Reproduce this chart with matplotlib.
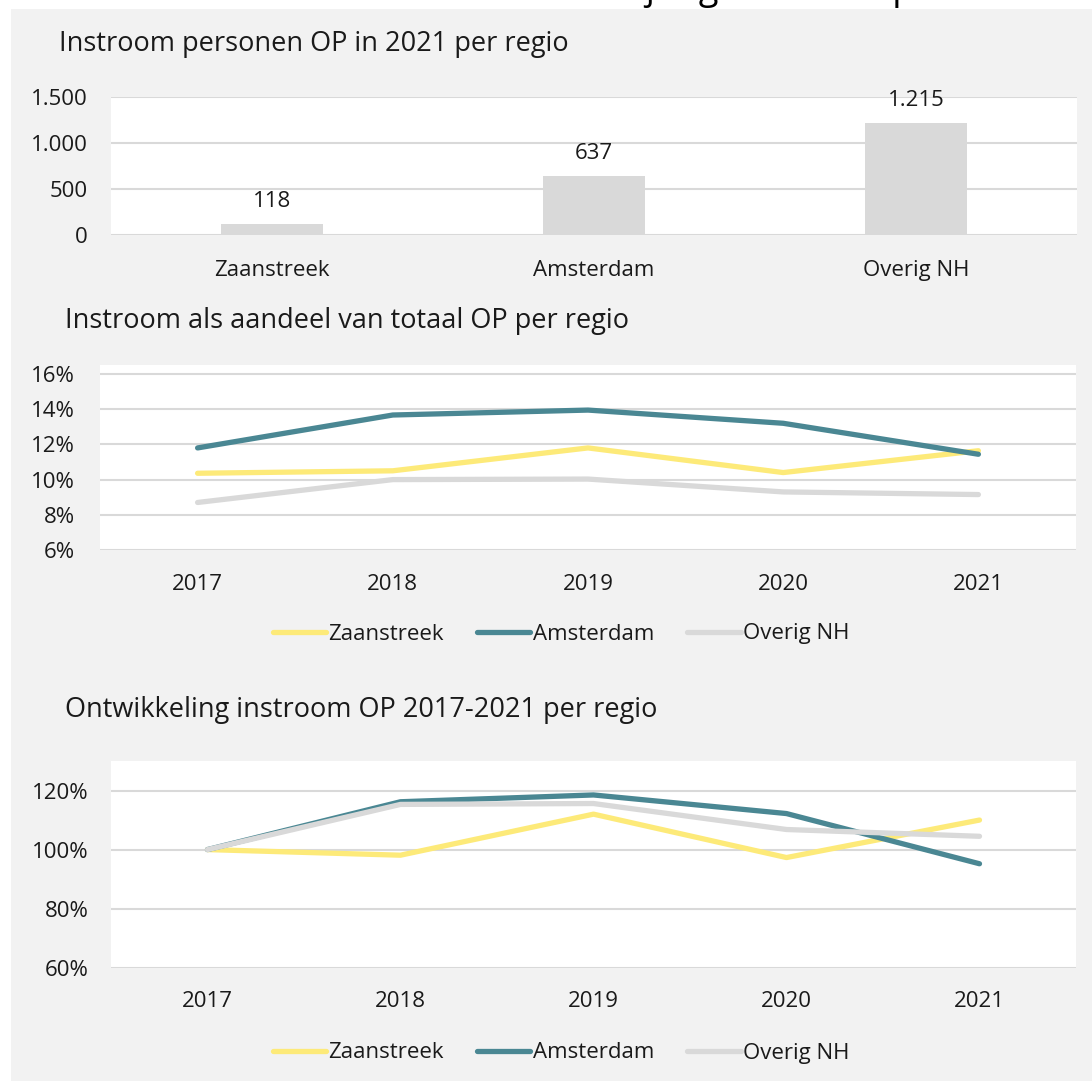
import matplotlib
matplotlib.use('Agg')
import matplotlib.pyplot as plt
from matplotlib.patches import Rectangle
from matplotlib.ticker import FuncFormatter

plt.rcParams['font.family'] = ['Open Sans', 'DejaVu Sans']

regions = ['Zaanstreek', 'Amsterdam', 'Overig NH']
instroom_2021 = [118, 637, 1215]

years = ['2017', '2018', '2019', '2020', '2021']
aandeel = {
    'Zaanstreek': [0.1036, 0.105, 0.118, 0.104, 0.1164],
    'Amsterdam': [0.118, 0.1367, 0.1395, 0.132, 0.1144],
    'Overig NH': [0.087, 0.100, 0.1003, 0.093, 0.0915],
}
ontwikkeling = {
    'Zaanstreek': [1.00, 0.981, 1.12, 0.973, 1.10],
    'Amsterdam': [1.00, 1.162, 1.185, 1.122, 0.952],
    'Overig NH': [1.00, 1.153, 1.156, 1.068, 1.045],
}
colors = {'Zaanstreek': '#FDEA79', 'Amsterdam': '#4A8793', 'Overig NH': '#D9D9D9'}

W, H = 1092, 1083
BG = '#F2F2F2'
GRID = '#D9D9D9'
TXT = '#1A1A1A'
TITLE_FS = 19.5
TICK_FS = 16

fig = plt.figure(figsize=(W / 100, H / 100), dpi=100, facecolor='white')


def px_axes(left, top, right, bottom):
    return fig.add_axes([left / W, 1 - bottom / H, (right - left) / W, (bottom - top) / H])


def nl_thousands(v, pos=None):
    return f'{int(v):,}'.replace(',', '.')


# gray panel behind everything
fig.patches.append(Rectangle((11 / W, 1 - 1081 / H), (W - 11) / W, (1081 - 9) / H,
                             transform=fig.transFigure, facecolor=BG, edgecolor='none', zorder=-10))

# big title, mostly cut off at the top edge
fig.text(482 / W, 1.0 + 1 / H, 'Instroom jongeren naar pro', fontsize=26, color='black',
         ha='left', va='baseline')

# --- panel 1: bars ---
fig.text(59 / W, 1 - 44 / H, 'Instroom personen OP in 2021 per regio', fontsize=TITLE_FS,
         color=TXT, va='center')
ax1 = px_axes(111, 97, 1077, 235)
ax1.set_facecolor('white')
x = range(len(regions))
bars = ax1.bar(x, instroom_2021, width=0.314, color='#D9D9D9', zorder=3)
for rect, v in zip(bars, instroom_2021):
    ax1.annotate(nl_thousands(v), xy=(rect.get_x() + rect.get_width() / 2, v),
                 xytext=(0, 9), textcoords='offset points', ha='center', va='bottom',
                 fontsize=TICK_FS, color=TXT)
ax1.set_xlim(-0.5, 2.5)
ax1.set_ylim(0, 1500)
ax1.set_yticks([0, 500, 1000, 1500])
ax1.yaxis.set_major_formatter(FuncFormatter(nl_thousands))
ax1.set_xticks(list(x))
ax1.set_xticklabels(regions)


def style(ax, xpad=14, ypad=17):
    for s in ax.spines.values():
        s.set_visible(False)
    ax.grid(axis='y', color=GRID, lw=1.5, zorder=0)
    ax.set_axisbelow(True)
    ax.tick_params(length=0, labelsize=TICK_FS, colors=TXT)
    ax.tick_params(axis='x', pad=xpad)
    ax.tick_params(axis='y', pad=ypad)


style(ax1, xpad=18, ypad=17)

pct = FuncFormatter(lambda v, pos: f'{v * 100:.0f}%')


def add_legend(handles, ypx):
    fig.legend(handles=handles, loc='center', bbox_to_anchor=(561 / W, 1 - ypx / H), ncol=3,
               frameon=False, fontsize=TICK_FS, handlelength=2.4, handletextpad=0.1,
               columnspacing=1.5, labelcolor=TXT)


# --- panel 2: share lines ---
fig.text(65 / W, 1 - 321 / H, 'Instroom als aandeel van totaal OP per regio', fontsize=TITLE_FS,
         color=TXT, va='center')
ax2 = px_axes(100, 365, 1076, 550)
ax2.set_facecolor('white')
handles = []
for r in regions:
    ln, = ax2.plot(range(len(years)), aandeel[r], color=colors[r], lw=3.8,
                   solid_capstyle='round', label=r, zorder=3)
    handles.append(ln)
ax2.set_xlim(-0.5, 4.5)
ax2.set_ylim(0.06, 0.16 + 9 / 17.6 / 100)
ax2.set_yticks([0.06, 0.08, 0.10, 0.12, 0.14, 0.16])
ax2.yaxis.set_major_formatter(pct)
ax2.set_xticks(range(len(years)))
ax2.set_xticklabels(years)
style(ax2, xpad=17, ypad=18)
add_legend(handles, 634)

# --- panel 3: development lines ---
fig.text(65 / W, 1 - 710 / H, 'Ontwikkeling instroom OP 2017-2021 per regio', fontsize=TITLE_FS,
         color=TXT, va='center')
ax3 = px_axes(111, 761, 1076, 967.7)
ax3.set_facecolor('white')
handles = []
for r in regions:
    ln, = ax3.plot(range(len(years)), ontwikkeling[r], color=colors[r], lw=3.8,
                   solid_capstyle='round', label=r, zorder=3)
    handles.append(ln)
ax3.set_xlim(-0.5, 4.5)
ax3.set_ylim(0.6, 1.3)
ax3.set_yticks([0.6, 0.8, 1.0, 1.2])
ax3.yaxis.set_major_formatter(pct)
ax3.set_xticks(range(len(years)))
ax3.set_xticklabels(years)
style(ax3, xpad=17, ypad=16)
add_legend(handles, 1053)

fig.savefig('out.png', dpi=100, facecolor='white')
